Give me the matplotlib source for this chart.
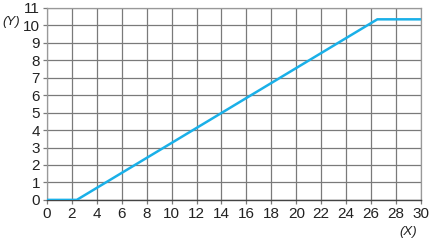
import matplotlib.pyplot as plt
import numpy as np

# (x, y) breakpoints of the line
line_x = [0, 2.4, 26.5, 30]
line_y = [0, 0, 10.35, 10.35]

x_ticks = list(range(0, 31, 2))
y_ticks = list(range(0, 12))

plt.rcParams['font.family'] = ['Liberation Sans', 'DejaVu Sans']

fig = plt.figure(figsize=(4.3, 2.42), dpi=100)
ax = fig.add_axes([0.109, 0.174, 0.870, 0.793])

ax.plot(line_x, line_y, color='#1ab0e8', lw=1.8, solid_capstyle='butt', zorder=3)

ax.set_xlim(0, 30)
ax.set_ylim(0, 11)
ax.set_xticks(x_ticks)
ax.set_yticks(y_ticks)
ax.grid(True, color='#7a7a7a', lw=0.9)
ax.tick_params(length=3, width=0.9, labelsize=11, pad=2, colors='#222222')
ax.tick_params(color='#7a7a7a')
for s in ['top', 'right', 'left']:
    ax.spines[s].set_color('#999999')
    ax.spines[s].set_linewidth(0.9)
ax.spines['bottom'].set_color('#444444')
ax.spines['bottom'].set_linewidth(1.0)

fig.text(0.006, 0.895, '(Y)', fontsize=9.5, style='italic', color='#222222')
fig.text(0.928, 0.03, '(X)', fontsize=9.5, style='italic', color='#222222')

fig.savefig('out.png', dpi=100)
